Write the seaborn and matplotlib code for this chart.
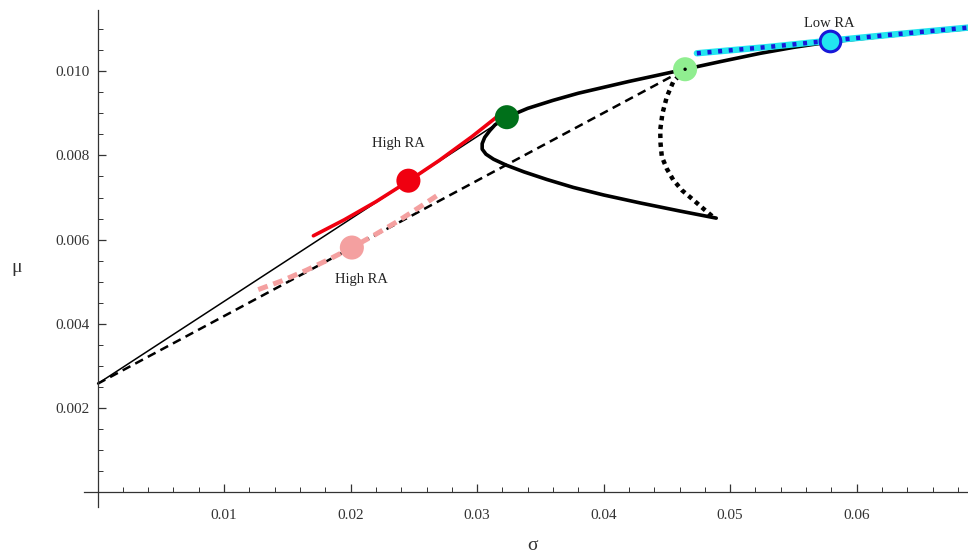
import matplotlib
matplotlib.use("Agg")
import matplotlib.pyplot as plt
import seaborn as sns
import numpy as np

sns.set_style("white")
plt.rcParams['font.family'] = ['Liberation Serif', 'DejaVu Serif']

# frontier (solid, thick)
front_sig = [0.0489, 0.0460, 0.0429, 0.0400, 0.0376, 0.0355, 0.0337, 0.0323, 0.0313, 0.0307,
             0.0304, 0.0304, 0.0306, 0.0310, 0.03142, 0.03235, 0.0340, 0.0360, 0.0380,
             0.0400, 0.0420, 0.0440, 0.04644, 0.0492, 0.0524, 0.0550, 0.0579, 0.0620, 0.0660, 0.0690]
front_mu = [0.00651, 0.00668, 0.00687, 0.00706, 0.00724, 0.00743, 0.00761, 0.00777, 0.00791, 0.00803,
            0.00815, 0.00828, 0.00843, 0.00859, 0.00873, 0.00891, 0.00912, 0.00931, 0.00948,
            0.00962, 0.00976, 0.00989, 0.01005, 0.01023, 0.01043, 0.01057, 0.01070, 0.01083, 0.01094, 0.01102]

# second frontier (dotted)
dot_sig = [0.04644, 0.0455, 0.0450, 0.04465, 0.04447, 0.0445, 0.0446, 0.0450, 0.0455, 0.0462, 0.0471, 0.0479, 0.0488]
dot_mu = [0.01005, 0.00975, 0.0094, 0.00900, 0.0086, 0.00828, 0.00797, 0.00768, 0.00742, 0.00717, 0.00694, 0.00673, 0.0065]

# capital market lines
rf = 0.00257
cml_sig = [0.0, 0.03235]
cml_mu = [rf, 0.00891]
cml2_sig = [0.0, 0.04644]
cml2_mu = [rf, 0.01005]

# indifference curves
red_sig = [0.01706, 0.0195, 0.0220, 0.02457, 0.0270, 0.0296, 0.0322]
red_mu = [0.00609, 0.00647, 0.00690, 0.00739, 0.00788, 0.00845, 0.00907]
pink_sig = [0.0127, 0.0145, 0.0165, 0.0183, 0.0201, 0.0219, 0.0237, 0.0255, 0.0272]
pink_mu = [0.00481, 0.00501, 0.00527, 0.00553, 0.00581, 0.00611, 0.00643, 0.00678, 0.00712]
cyan_sig = [0.04737, 0.0530, 0.0579, 0.0630, 0.0688]
cyan_mu = [0.01043, 0.01058, 0.01073, 0.01088, 0.01104]

# points
pt_sig = {'darkgreen': 0.03235, 'lightgreen': 0.04644, 'red': 0.02457, 'pink': 0.0201, 'blue': 0.0579}
pt_mu = {'darkgreen': 0.00891, 'lightgreen': 0.01005, 'red': 0.00740, 'pink': 0.00581, 'blue': 0.01072}

fig = plt.figure(figsize=(9.68, 5.56), dpi=100)
ax = fig.add_axes([0.0868, 0.0881, 0.9132, 0.894])

sns.lineplot(x=cml_sig, y=cml_mu, sort=False, estimator=None, color='black', lw=1.1, ax=ax)
sns.lineplot(x=cml2_sig, y=cml2_mu, sort=False, estimator=None, color='black', lw=1.8,
             ax=ax).lines[-1].set_dashes([3.5, 2.2])
sns.lineplot(x=pink_sig, y=pink_mu, sort=False, estimator=None, color='#F4A0A0', lw=3.6,
             ax=ax).lines[-1].set_dashes([2.0, 1.2])
sns.lineplot(x=front_sig, y=front_mu, sort=False, estimator=None, color='black', lw=2.6, ax=ax)
sns.lineplot(x=dot_sig, y=dot_mu, sort=False, estimator=None, color='black', lw=3.2,
             ax=ax).lines[-1].set_dashes([1.0, 1.0])
sns.lineplot(x=red_sig, y=red_mu, sort=False, estimator=None, color='#F00010', lw=2.6, ax=ax)
sns.lineplot(x=cyan_sig, y=cyan_mu, sort=False, estimator=None, color='#22E6F0', lw=4.6, ax=ax)
sns.lineplot(x=cyan_sig, y=cyan_mu, sort=False, estimator=None, color='#1818D8', lw=3.2,
             ax=ax).lines[-1].set_dashes([0.9, 1.5])

sns.scatterplot(x=[pt_sig['darkgreen']], y=[pt_mu['darkgreen']], color='#00701A', s=300, edgecolor='none', ax=ax, zorder=5)
sns.scatterplot(x=[pt_sig['lightgreen']], y=[pt_mu['lightgreen']], color='#90EE90', s=300, edgecolor='none', ax=ax, zorder=5)
sns.scatterplot(x=[pt_sig['lightgreen']], y=[pt_mu['lightgreen']], color='black', s=6, edgecolor='none', ax=ax, zorder=6)
sns.scatterplot(x=[pt_sig['red']], y=[pt_mu['red']], color='#F00010', s=300, edgecolor='none', ax=ax, zorder=5)
sns.scatterplot(x=[pt_sig['pink']], y=[pt_mu['pink']], color='#F4A0A0', s=300, edgecolor='none', ax=ax, zorder=5)
sns.scatterplot(x=[pt_sig['blue']], y=[pt_mu['blue']], color='#22E6F0', s=220, edgecolor='#1818D8',
                linewidth=2.2, ax=ax, zorder=5)

ax.text(0.02378, 0.00829, 'High RA', ha='center', va='center', fontsize=10.5, color='#222222')
ax.text(0.02088, 0.00506, 'High RA', ha='center', va='center', fontsize=10.5, color='#222222')
ax.text(0.0578, 0.01113, 'Low RA', ha='center', va='center', fontsize=10.5, color='#222222')

ax.set_xlim(-0.00107, 0.0688)
ax.set_ylim(-0.00036, 0.01146)
for s in ['top', 'right']:
    ax.spines[s].set_visible(False)
ax.spines['left'].set_position(('data', 0))
ax.spines['bottom'].set_position(('data', 0))
for s in ['left', 'bottom']:
    ax.spines[s].set_color('#333333')
    ax.spines[s].set_linewidth(0.9)

ax.set_xticks([0.01, 0.02, 0.03, 0.04, 0.05, 0.06])
ax.set_xticklabels(['0.01', '0.02', '0.03', '0.04', '0.05', '0.06'])
ax.set_xticks(np.arange(0.002, 0.0688, 0.002), minor=True)
ax.set_yticks([0.002, 0.004, 0.006, 0.008, 0.010])
ax.set_yticklabels(['0.002', '0.004', '0.006', '0.008', '0.010'])
ax.set_yticks(np.arange(0.0005, 0.0115, 0.0005), minor=True)
ax.tick_params(axis='x', which='both', bottom=True)
ax.tick_params(axis='y', which='both', left=True)
ax.tick_params(axis='both', which='major', direction='in', length=6, width=0.9,
               color='#333333', labelsize=11, labelcolor='#333333')
ax.tick_params(axis='both', which='minor', direction='in', length=3.5, width=0.7, color='#333333')
ax.tick_params(axis='x', pad=12)
ax.tick_params(axis='y', pad=6)
ax.set_xlabel('')
ax.set_ylabel('')

fig.text(533 / 968, 1 - 545 / 556, 'σ', ha='center', va='center', fontsize=14, color='#333333')
fig.text(17 / 968, 1 - 268 / 556, 'μ', ha='center', va='center', fontsize=14, color='#333333')

fig.savefig('out.png', dpi=100)
